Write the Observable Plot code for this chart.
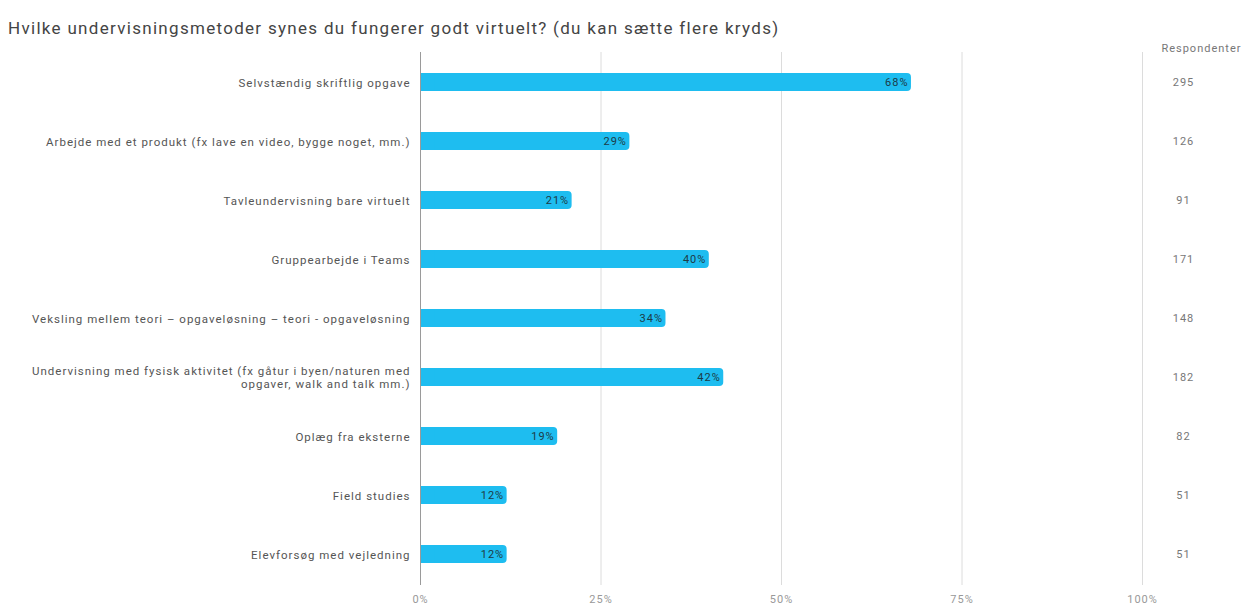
<!DOCTYPE html>
<html>
<head>
<meta charset="utf-8">
<script src="https://cdn.jsdelivr.net/npm/d3@7"></script>
<script src="https://cdn.jsdelivr.net/npm/@observablehq/plot@0.6"></script>
<style>
  html, body { margin: 0; padding: 0; background: #fff; }
  #wrap { position: relative; width: 1242px; height: 606px; overflow: hidden; }
  #title { position: absolute; left: 8px; top: 18px; font-family: Roboto, sans-serif; font-size: 17px; color: #444; white-space: nowrap; letter-spacing: 1.3px; }
  #chart { position: absolute; left: 0; top: 0; }
</style>
</head>
<body>
<div id="wrap">
  <div id="chart"></div>
  <div id="title">Hvilke undervisningsmetoder synes du fungerer godt virtuelt? (du kan sætte flere kryds)</div>
</div>
<script>
const categories = [
  "Selvstændig skriftlig opgave",
  "Arbejde med et produkt (fx lave en video, bygge noget, mm.)",
  "Tavleundervisning bare virtuelt",
  "Gruppearbejde i Teams",
  "Veksling mellem teori – opgaveløsning – teori - opgaveløsning",
  "Undervisning med fysisk aktivitet (fx gåtur i byen/naturen med\nopgaver, walk and talk mm.)",
  "Oplæg fra eksterne",
  "Field studies",
  "Elevforsøg med vejledning"
];
const percents = [0.68, 0.29, 0.21, 0.40, 0.34, 0.42, 0.19, 0.12, 0.12];
const counts = [295, 126, 91, 171, 148, 182, 82, 51, 51];
const xTicks = [0, 0.25, 0.5, 0.75, 1];
const countHeader = "Respondenter";

const data = categories.map((c, i) => ({cat: c, pct: percents[i], n: counts[i]}));

const chart = Plot.plot({
  width: 1242,
  height: 606,
  marginLeft: 420,
  marginRight: 100,
  marginTop: 52,
  marginBottom: 21,
  style: {fontFamily: "Roboto, sans-serif", fontSize: "11px", color: "#555", background: "#fff", letterSpacing: "1px"},
  x: {domain: [0, 1], axis: null},
  y: {domain: categories, paddingInner: 0.69, paddingOuter: 0.345, axis: null},
  marks: [
    Plot.ruleX(xTicks.filter(d => d > 0), {stroke: "#dcdcdc", strokeWidth: 1}),
    Plot.barX(data, {y: "cat", x: "pct", fill: "#1ebdf0", rx: 4}),
    Plot.barX(data, {y: "cat", x1: 0, x2: d => Math.min(d.pct, 0.02), fill: "#1ebdf0"}),
    Plot.ruleX([0], {stroke: "#9a9a9a", strokeWidth: 1}),
    Plot.text(data, {y: "cat", x: "pct", text: d => Math.round(d.pct * 100) + "%", textAnchor: "end", dx: -3, fill: "#1d3b47", fontSize: 11}),
    Plot.axisY({domain: categories, tickSize: 0, tickPadding: 10, fontSize: 11.5, fill: "#555", lineHeight: 1.15, label: null}),
    Plot.axisX(xTicks, {tickSize: 0, tickPadding: 10, tickFormat: d => Math.round(d * 100) + "%", fill: "#999", fontSize: 11, label: null}),
    Plot.text(data, {y: "cat", text: d => String(d.n), frameAnchor: "right", textAnchor: "middle", dx: 41, fill: "#777", fontSize: 11}),
    Plot.text([countHeader], {frameAnchor: "top-right", textAnchor: "end", dx: 99, dy: -8, fill: "#777", fontSize: 11})
  ]
});
document.getElementById("chart").appendChild(chart);
</script>
</body>
</html>
